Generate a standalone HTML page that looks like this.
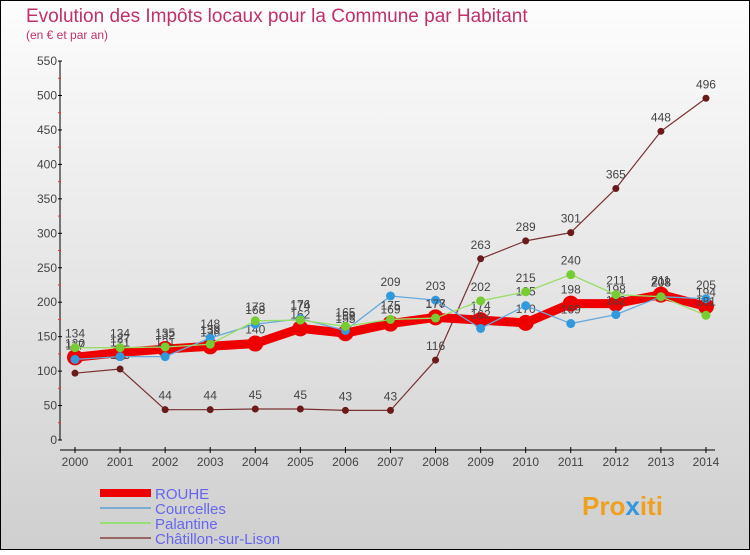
<!DOCTYPE html>
<html><head><meta charset="utf-8"><style>
body{margin:0;width:750px;height:550px;overflow:hidden;font-family:"Liberation Sans",sans-serif}
</style></head><body>
<svg width="750" height="550" xmlns="http://www.w3.org/2000/svg">
<defs><linearGradient id="bg" x1="0" y1="0" x2="0" y2="1"><stop offset="0" stop-color="#fdfdfd"/><stop offset="1" stop-color="#cfcfcf"/></linearGradient></defs>
<rect x="0.5" y="0.5" width="749" height="549" fill="url(#bg)" stroke="#000"/>
<text x="26" y="22" font-size="19" fill="#c0306a">Evolution des Impôts locaux pour la Commune par Habitant</text>
<text x="26" y="39" font-size="12" fill="#c0306a">(en € et par an)</text>
<g id="axes"></g>
<g id="series"></g>
<g id="legend">
<rect x="100" y="489" width="51" height="8" fill="#e00"/>
<text x="155" y="499" font-size="15" fill="#6666ee">ROUHE</text>
<line x1="100" y1="508" x2="151" y2="508" stroke="#7aaed0" stroke-width="2"/>
<text x="155" y="514" font-size="15" fill="#6666ee">Courcelles</text>
<line x1="100" y1="523" x2="151" y2="523" stroke="#99dd77" stroke-width="2"/>
<text x="155" y="529" font-size="15" fill="#6666ee">Palantine</text>
<line x1="100" y1="538" x2="151" y2="538" stroke="#996666" stroke-width="2"/>
<text x="155" y="544" font-size="15" fill="#6666ee">Châtillon-sur-Lison</text>
</g>
<text x="582" y="515" font-size="26" font-weight="bold" fill="#f0a020">Pro<tspan fill="#3399dd">x</tspan>iti</text>
</svg>
<script>
const years=[2000,2001,2002,2003,2004,2005,2006,2007,2008,2009,2010,2011,2012,2013,2014];
const yTicks=[0,50,100,150,200,250,300,350,400,450,500,550];
const rouhe=[120,127,132,136,140,162,155,169,178,174,170,198,198,211,194];
const courcelles=[117,121,121,148,168,176,159,209,203,162,195,169,182,208,205];
const palantine=[134,134,135,139,173,174,165,175,177,202,215,240,211,208,181];
const chatillon=[97,103,44,44,45,45,43,43,116,263,289,301,365,448,496];
const NS="http://www.w3.org/2000/svg";
const X=i=>75+i*45.07, Y=v=>440-v*0.689;
function mk(t,a,p){const e=document.createElementNS(NS,t);for(const k in a)e.setAttribute(k,a[k]);p.appendChild(e);return e;}
const ax=document.getElementById('axes');
const yl=mk('line',{x1:60,y1:Y(550),x2:60,y2:Y(0),stroke:'#000'},ax);


const xl=mk('line',{x1:60,y1:450,x2:715,y2:450,stroke:'#000'},ax);


yTicks.forEach(v=>{
 mk('line',{x1:58,y1:Y(v),x2:62,y2:Y(v),stroke:'#000'},ax);
 if(v<550) mk('line',{x1:58,y1:Y(v+25),x2:61,y2:Y(v+25),stroke:'#e33'},ax);
 const t=mk('text',{x:57,y:Y(v)+4,'font-size':12,fill:'#444','text-anchor':'end'},ax);t.textContent=v;
 
 
});
years.forEach((y,i)=>{
 mk('line',{x1:X(i),y1:447,x2:X(i),y2:453,stroke:'#000'},ax);
 const t=mk('text',{x:X(i),y:466,'font-size':12,fill:'#444','text-anchor':'middle'},ax);t.textContent=y;
 
 
});
const sg=document.getElementById('series');
function draw(arr,color,w,r,fill,name,stroke){
 const g=mk('g',{},sg);
 
 
 mk('polyline',{points:arr.map((v,i)=>X(i)+','+Y(v)).join(' '),fill:'none',stroke:color,'stroke-width':w,'stroke-linejoin':'round'},g);
 arr.forEach((v,i)=>{
  const c=mk('circle',{cx:X(i),cy:Y(v),r:r,fill:fill,stroke:stroke||'none'},g);
  
  
  const t=mk('text',{x:X(i),y:Y(v)-10,'font-size':12,fill:'#444','text-anchor':'middle'},g);t.textContent=v;
  
  
 });
}
draw(chatillon,'#7a3030',1.2,3.5,'#6a1a1a','chatillon');
draw(rouhe,'#ee0000',9,8,'#ee0000','rouhe');
draw(courcelles,'#66aadd',1.3,4.5,'#3399dd','courcelles');
draw(palantine,'#99dd66',1.3,4.5,'#77cc33','palantine');
</script>
</body></html>
